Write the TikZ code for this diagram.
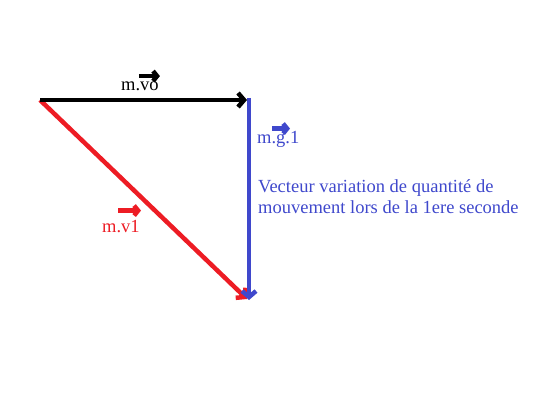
\documentclass[tikz,border=0pt]{standalone}
\usepackage{fontspec}
\setmainfont{Liberation Serif}
\usetikzlibrary{arrows.meta,positioning}

\definecolor{paintred}{RGB}{237,28,36}
\definecolor{paintblue}{RGB}{63,72,204}

\begin{document}
\begin{tikzpicture}[x=1pt, y=-1pt, font=\fontsize{18.5}{21}\selectfont,
        vec/.style={line width=4.5pt, -{Straight Barb[length=6pt,width=14pt]}},
        smallvec/.style={line width=4.5pt, -{Straight Barb[length=4pt,width=10pt]}},
        lbl/.style={inner sep=0pt, anchor=base west}]
        \useasboundingbox (0,0) rectangle (533,401);

        \coordinate (O) at (40,100);
        \coordinate (B) at (249,100);
        \coordinate (C) at (249,300);

        \node [lbl] (vo) at (121,91) {m.vo};
        \node [lbl, text=paintblue] (g1) at (257,144) {m.g.1};
        \node [lbl, text=paintred] (v1) at (102,232) {m.v1};
        \node [lbl, text=paintblue, align=left] (dp) at (258,214) {Vecteur variation de quantité de\\mouvement lors de la 1ere seconde};

        \draw[vec, paintred] (O) -- ([xshift=-2pt,yshift=1pt]C);
        \draw[vec, paintblue] ([yshift=2pt]B) -- (C);
        \draw[vec, black, shorten >=2pt] (O) -- (B);

        \draw[smallvec] ([xshift=-20pt,yshift=6pt]vo.north east) -- ([xshift=1pt,yshift=6pt]vo.north east);
        \draw[smallvec, paintblue] ([xshift=15pt,yshift=3pt]g1.north west) -- ([xshift=33pt,yshift=3pt]g1.north west);
        \draw[smallvec, paintred] ([xshift=16pt,yshift=9pt]v1.north west) -- ([xshift=39pt,yshift=9pt]v1.north west);
\end{tikzpicture}
\end{document}
